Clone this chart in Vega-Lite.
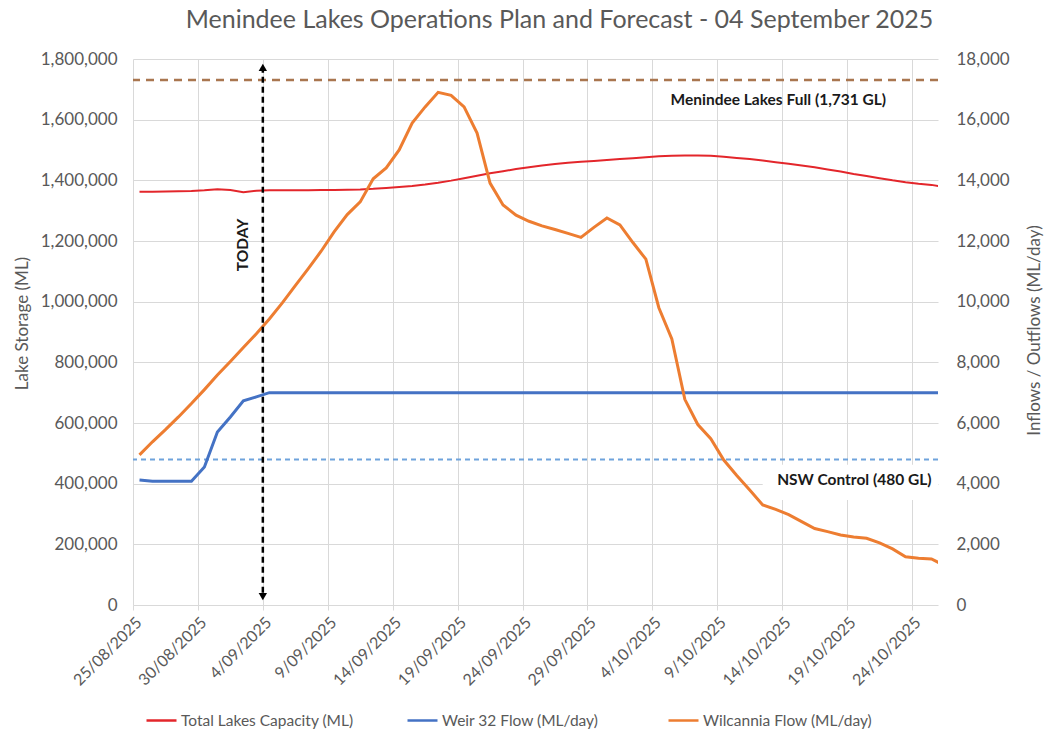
{
  "$schema": "https://vega.github.io/schema/vega-lite/v6.json",
  "width": 805,
  "height": 546,
  "autosize": "none",
  "padding": {"left": 133, "top": 59, "right": 108, "bottom": 128},
  "background": "white",
  "title": {
    "text": "Menindee Lakes Operations Plan and Forecast - 04 September 2025",
    "font": "Lato", "fontSize": 25, "fontWeight": "normal", "color": "#595959",
    "anchor": "middle", "frame": "group", "dx": 24, "offset": 17
  },
  "config": {
    "view": {"stroke": null},
    "font": "Lato",
    "axis": {
      "labelFont": "Lato", "labelColor": "#595959", "titleFont": "Lato", "titleColor": "#595959",
      "titleFontWeight": "normal", "gridColor": "#d9d9d9", "domain": false
    }
  },
  "datasets": {
    "main": [
      {"d": "2025-08-25", "cap": 1362000, "weir": 4120, "wil": 4950},
      {"d": "2025-08-26", "cap": 1362500, "weir": 4080, "wil": 5380},
      {"d": "2025-08-27", "cap": 1363000, "weir": 4080, "wil": 5780},
      {"d": "2025-08-28", "cap": 1364000, "weir": 4080, "wil": 6200},
      {"d": "2025-08-29", "cap": 1365000, "weir": 4080, "wil": 6640},
      {"d": "2025-08-30", "cap": 1367000, "weir": 4550, "wil": 7100},
      {"d": "2025-08-31", "cap": 1371000, "weir": 5700, "wil": 7580},
      {"d": "2025-09-01", "cap": 1368000, "weir": 6200, "wil": 8030},
      {"d": "2025-09-02", "cap": 1361000, "weir": 6730, "wil": 8490},
      {"d": "2025-09-03", "cap": 1366000, "weir": 6860, "wil": 8940},
      {"d": "2025-09-04", "cap": 1367000, "weir": 7000, "wil": 9430},
      {"d": "2025-09-05", "cap": 1367000, "weir": 7000, "wil": 9960},
      {"d": "2025-09-06", "cap": 1367000, "weir": 7000, "wil": 10530},
      {"d": "2025-09-07", "cap": 1367500, "weir": 7000, "wil": 11090},
      {"d": "2025-09-08", "cap": 1368000, "weir": 7000, "wil": 11670},
      {"d": "2025-09-09", "cap": 1368500, "weir": 7000, "wil": 12310},
      {"d": "2025-09-10", "cap": 1369000, "weir": 7000, "wil": 12870},
      {"d": "2025-09-11", "cap": 1370000, "weir": 7000, "wil": 13290},
      {"d": "2025-09-12", "cap": 1372000, "weir": 7000, "wil": 14050},
      {"d": "2025-09-13", "cap": 1375000, "weir": 7000, "wil": 14410},
      {"d": "2025-09-14", "cap": 1378000, "weir": 7000, "wil": 15000},
      {"d": "2025-09-15", "cap": 1381000, "weir": 7000, "wil": 15890},
      {"d": "2025-09-16", "cap": 1386000, "weir": 7000, "wil": 16420},
      {"d": "2025-09-17", "cap": 1392000, "weir": 7000, "wil": 16900},
      {"d": "2025-09-18", "cap": 1399000, "weir": 7000, "wil": 16800},
      {"d": "2025-09-19", "cap": 1407000, "weir": 7000, "wil": 16420},
      {"d": "2025-09-20", "cap": 1415000, "weir": 7000, "wil": 15560},
      {"d": "2025-09-21", "cap": 1423000, "weir": 7000, "wil": 13910},
      {"d": "2025-09-22", "cap": 1430000, "weir": 7000, "wil": 13190},
      {"d": "2025-09-23", "cap": 1437000, "weir": 7000, "wil": 12850},
      {"d": "2025-09-24", "cap": 1443000, "weir": 7000, "wil": 12650},
      {"d": "2025-09-25", "cap": 1449000, "weir": 7000, "wil": 12500},
      {"d": "2025-09-26", "cap": 1454000, "weir": 7000, "wil": 12380},
      {"d": "2025-09-27", "cap": 1458000, "weir": 7000, "wil": 12250},
      {"d": "2025-09-28", "cap": 1461000, "weir": 7000, "wil": 12120},
      {"d": "2025-09-29", "cap": 1464000, "weir": 7000, "wil": 12450},
      {"d": "2025-09-30", "cap": 1467000, "weir": 7000, "wil": 12760},
      {"d": "2025-10-01", "cap": 1470000, "weir": 7000, "wil": 12530},
      {"d": "2025-10-02", "cap": 1473000, "weir": 7000, "wil": 11950},
      {"d": "2025-10-03", "cap": 1476000, "weir": 7000, "wil": 11400},
      {"d": "2025-10-04", "cap": 1479000, "weir": 7000, "wil": 9800},
      {"d": "2025-10-05", "cap": 1481000, "weir": 7000, "wil": 8770},
      {"d": "2025-10-06", "cap": 1482000, "weir": 7000, "wil": 6780},
      {"d": "2025-10-07", "cap": 1482000, "weir": 7000, "wil": 5950},
      {"d": "2025-10-08", "cap": 1481000, "weir": 7000, "wil": 5480},
      {"d": "2025-10-09", "cap": 1478000, "weir": 7000, "wil": 4780},
      {"d": "2025-10-10", "cap": 1474000, "weir": 7000, "wil": 4270},
      {"d": "2025-10-11", "cap": 1470000, "weir": 7000, "wil": 3790},
      {"d": "2025-10-12", "cap": 1465000, "weir": 7000, "wil": 3300},
      {"d": "2025-10-13", "cap": 1460000, "weir": 7000, "wil": 3150},
      {"d": "2025-10-14", "cap": 1455000, "weir": 7000, "wil": 2980},
      {"d": "2025-10-15", "cap": 1449000, "weir": 7000, "wil": 2750},
      {"d": "2025-10-16", "cap": 1443000, "weir": 7000, "wil": 2520},
      {"d": "2025-10-17", "cap": 1436000, "weir": 7000, "wil": 2420},
      {"d": "2025-10-18", "cap": 1429000, "weir": 7000, "wil": 2310},
      {"d": "2025-10-19", "cap": 1421000, "weir": 7000, "wil": 2240},
      {"d": "2025-10-20", "cap": 1414000, "weir": 7000, "wil": 2200},
      {"d": "2025-10-21", "cap": 1407000, "weir": 7000, "wil": 2050},
      {"d": "2025-10-22", "cap": 1400000, "weir": 7000, "wil": 1850},
      {"d": "2025-10-23", "cap": 1394000, "weir": 7000, "wil": 1590},
      {"d": "2025-10-24", "cap": 1389000, "weir": 7000, "wil": 1540},
      {"d": "2025-10-25", "cap": 1385000, "weir": 7000, "wil": 1520},
      {"d": "2025-10-26", "cap": 1377000, "weir": 7000, "wil": 1300}
    ]
  },
  "layer": [
    {
      "layer": [
        {
          "data": {"name": "main"},
          "mark": {"type": "line", "strokeWidth": 2, "clip": true},
          "encoding": {
            "x": {
              "field": "d", "type": "temporal", "timeUnit": "utcyearmonthdate", "bandPosition": 0.5,
              "scale": {"type": "utc", "domain": [{"year": 2025, "month": 8, "date": 25, "utc": true}, {"year": 2025, "month": 10, "date": 26, "utc": true}], "nice": false},
              "axis": {
                "title": null,
                "values": [
                  {"year": 2025, "month": 8, "date": 25, "utc": true},
                  {"year": 2025, "month": 8, "date": 30, "utc": true},
                  {"year": 2025, "month": 9, "date": 4, "utc": true},
                  {"year": 2025, "month": 9, "date": 9, "utc": true},
                  {"year": 2025, "month": 9, "date": 14, "utc": true},
                  {"year": 2025, "month": 9, "date": 19, "utc": true},
                  {"year": 2025, "month": 9, "date": 24, "utc": true},
                  {"year": 2025, "month": 9, "date": 29, "utc": true},
                  {"year": 2025, "month": 10, "date": 4, "utc": true},
                  {"year": 2025, "month": 10, "date": 9, "utc": true},
                  {"year": 2025, "month": 10, "date": 14, "utc": true},
                  {"year": 2025, "month": 10, "date": 19, "utc": true},
                  {"year": 2025, "month": 10, "date": 24, "utc": true}
                ],
                "labelExpr": "utcFormat(datum.value, '%-d/%m/%Y')",
                "labelAngle": -45, "labelFontSize": 16, "labelPadding": 4,
                "grid": true, "ticks": true, "tickSize": 5, "tickColor": "#d9d9d9", "labelOverlap": false, "labelFlush": false
              }
            },
            "y": {
              "field": "cap", "type": "quantitative",
              "scale": {"domain": [0, 1800000], "nice": false},
              "axis": {
                "orient": "left", "title": "Lake Storage (ML)", "titleFontSize": 17,
                "values": [0, 200000, 400000, 600000, 800000, 1000000, 1200000, 1400000, 1600000, 1800000],
                "format": ",.0f", "labelFontSize": 17, "labelPadding": 16, "ticks": false, "grid": true,
                "titleX": -111, "titleY": 264, "titleBaseline": "middle", "titleAngle": 270
              }
            },
            "color": {
              "datum": "cap",
              "scale": {"domain": ["cap", "weir", "wil"], "range": ["#e3262b", "#4472c4", "#ed7d31"]},
              "legend": {
                "orient": "none", "legendX": 12, "legendY": 645, "direction": "horizontal", "columns": 3,
                "gridAlign": "all", "title": null, "symbolType": "stroke", "symbolStrokeWidth": 2.5,
                "symbolSize": 900, "labelFontSize": 15.5, "labelColor": "#595959", "labelFont": "Lato",
                "columnPadding": 48, "labelOffset": 3, "padding": 0, "labelLimit": 300,
                "labelExpr": "datum.value == 'cap' ? 'Total Lakes Capacity (ML)' : datum.value == 'weir' ? 'Weir 32 Flow (ML/day)' : 'Wilcannia Flow (ML/day)'"
              }
            }
          }
        },
        {
          "data": {"values": [{"v": 1731000}]},
          "mark": {"type": "rule", "color": "#a9764f", "strokeWidth": 2.5, "strokeDash": [8, 6]},
          "encoding": {
            "y": {"field": "v", "type": "quantitative"}
          }
        },
        {
          "data": {"values": [{"v": 480000}]},
          "mark": {"type": "rule", "color": "#6fa3dc", "strokeWidth": 2, "strokeDash": [5, 4]},
          "encoding": {
            "y": {"field": "v", "type": "quantitative"}
          }
        },
        {
          "data": {"values": [{"a": "2025-10-12T12:00:00Z", "b": "2025-10-26T00:00:00Z", "lo": 346000, "hi": 462000}]},
          "mark": {"type": "rect", "color": "white"},
          "encoding": {
            "x": {"field": "a", "type": "temporal", "axis": {"title": null, "labelExpr": "utcFormat(datum.value, '%-d/%m/%Y')"}},
            "x2": {"field": "b"},
            "y": {"field": "lo", "type": "quantitative"},
            "y2": {"field": "hi"}
          }
        }
      ]
    },
    {
      "data": {"name": "main"},
      "transform": [{"fold": ["weir", "wil"], "as": ["series", "flow"]}],
      "mark": {"type": "line", "strokeWidth": 3, "clip": true},
      "encoding": {
        "x": {"field": "d", "type": "temporal", "timeUnit": "utcyearmonthdate", "bandPosition": 0.5, "axis": {"title": null, "labelExpr": "utcFormat(datum.value, '%-d/%m/%Y')"}},
        "y": {
          "field": "flow", "type": "quantitative",
          "scale": {"domain": [0, 18000], "nice": false},
          "axis": {
            "orient": "right", "title": "Inflows / Outflows (ML/day)", "titleFontSize": 17,
            "values": [0, 2000, 4000, 6000, 8000, 10000, 12000, 14000, 16000, 18000],
            "format": ",.0f", "labelFontSize": 17, "labelPadding": 18, "ticks": false, "grid": false,
            "titleX": 96, "titleY": 271, "titleBaseline": "middle", "titleAngle": 270
          }
        },
        "color": {
          "field": "series", "type": "nominal",
          "scale": {"domain": ["cap", "weir", "wil"], "range": ["#e3262b", "#4472c4", "#ed7d31"]},
          "legend": {
            "orient": "none", "legendX": 12, "legendY": 645, "direction": "horizontal", "columns": 3,
            "gridAlign": "all", "title": null, "symbolType": "stroke", "symbolStrokeWidth": 2.5,
            "symbolSize": 900, "labelFontSize": 15.5, "labelColor": "#595959", "labelFont": "Lato",
            "columnPadding": 48, "labelOffset": 3, "padding": 0, "labelLimit": 300,
            "labelExpr": "datum.value == 'cap' ? 'Total Lakes Capacity (ML)' : datum.value == 'weir' ? 'Weir 32 Flow (ML/day)' : 'Wilcannia Flow (ML/day)'"
          }
        }
      }
    },
    {
      "layer": [
        {
          "data": {"values": [{"d": "2025-09-04", "lo": 40000, "hi": 1770000}]},
          "mark": {"type": "rule", "color": "black", "strokeWidth": 2.5, "strokeDash": [6, 4]},
          "encoding": {
            "x": {"field": "d", "type": "temporal", "axis": {"title": null, "labelExpr": "utcFormat(datum.value, '%-d/%m/%Y')"}},
            "y": {"field": "lo", "type": "quantitative", "scale": {"domain": [0, 1800000], "nice": false}, "axis": null},
            "y2": {"field": "hi"}
          }
        },
        {
          "data": {"values": [{"d": "2025-09-04", "v": 1772000, "s": "triangle-up"}, {"d": "2025-09-04", "v": 28000, "s": "triangle-down"}]},
          "mark": {"type": "point", "filled": true, "color": "black", "opacity": 1, "size": 70},
          "encoding": {
            "x": {"field": "d", "type": "temporal", "axis": {"title": null, "labelExpr": "utcFormat(datum.value, '%-d/%m/%Y')"}},
            "y": {"field": "v", "type": "quantitative", "scale": {"domain": [0, 1800000], "nice": false}, "axis": null},
            "shape": {"field": "s", "type": "nominal", "scale": null, "legend": null}
          }
        },
        {
          "data": {"values": [{"d": "2025-10-22T00:00:00Z", "v": 1665000, "t": "Menindee Lakes Full (1,731 GL)"}, {"d": "2025-10-25T12:00:00Z", "v": 412000, "t": "NSW Control (480 GL)"}]},
          "mark": {"type": "text", "align": "right", "baseline": "middle", "fontWeight": "bold", "fontSize": 15.5, "color": "#1a1a1a", "font": "Lato"},
          "encoding": {
            "x": {"field": "d", "type": "temporal", "axis": {"title": null, "labelExpr": "utcFormat(datum.value, '%-d/%m/%Y')"}},
            "y": {"field": "v", "type": "quantitative", "scale": {"domain": [0, 1800000], "nice": false}, "axis": null},
            "text": {"field": "t"}
          }
        },
        {
          "data": {"values": [{"d": "2025-09-02T12:00:00Z", "v": 1187000, "t": "TODAY"}]},
          "mark": {"type": "text", "align": "center", "baseline": "middle", "angle": 270, "fontWeight": "bold", "fontSize": 15.5, "color": "#1a1a1a", "font": "Lato"},
          "encoding": {
            "x": {"field": "d", "type": "temporal", "axis": {"title": null, "labelExpr": "utcFormat(datum.value, '%-d/%m/%Y')"}},
            "y": {"field": "v", "type": "quantitative", "scale": {"domain": [0, 1800000], "nice": false}, "axis": null},
            "text": {"field": "t"}
          }
        }
      ]
    }
  ],
  "resolve": {"scale": {"y": "independent"}}
}
